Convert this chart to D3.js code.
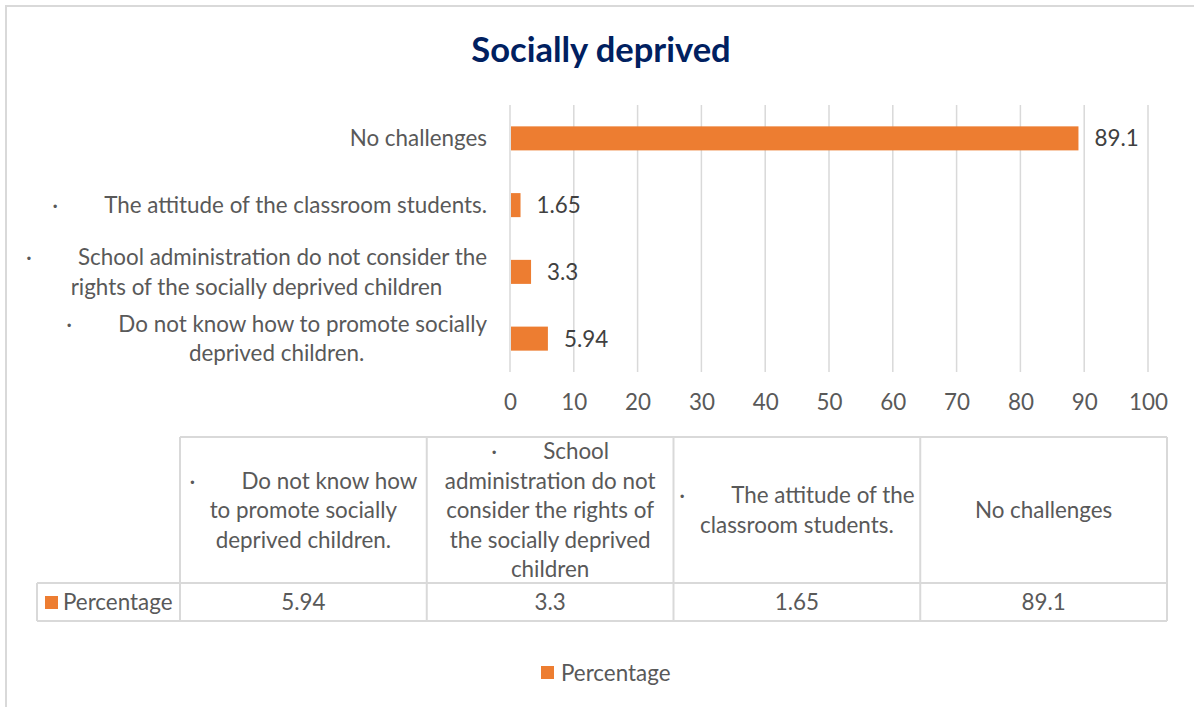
<!DOCTYPE html>
<html><head><meta charset="utf-8">
<script src="https://cdn.jsdelivr.net/npm/d3@7"></script>
<style>
html,body{margin:0;padding:0;background:#fff;}
svg{display:block;font-family:Lato, "Noto Sans", sans-serif;}
</style></head>
<body><svg id="c" width="1194" height="707"></svg>
<script>
const title = "Socially deprived";
const seriesName = "Percentage";
// categories in data order (table order); chart shows first at bottom
const categories = [
  "Do not know how to promote socially deprived children.",
  "School administration do not consider the rights of the socially deprived children",
  "The attitude of the classroom students.",
  "No challenges"
];
const bulleted = [true, true, true, false];
const values = [5.94, 3.3, 1.65, 89.1];
const valueLabels = ["5.94", "3.3", "1.65", "89.1"];
// wrapped lines for the axis labels and the table header
const axisLabelLines = [
  ["Do not know how to promote socially", "deprived children."],
  ["School administration do not consider the", "rights of the socially deprived children"],
  ["The attitude of the classroom students."],
  ["No challenges"]
];
const tableHeaderLines = [
  ["Do not know how", "to promote socially", "deprived children."],
  ["School", "administration do not", "consider the rights of", "the socially deprived", "children"],
  ["The attitude of the", "classroom students."],
  ["No challenges"]
];
const xTicks = [0,10,20,30,40,50,60,70,80,90,100];

const W = 1194, H = 707;
const orange = "#ED7D31", textCol = "#595959", grid = "#D9D9D9";
const FS = 22.4;
const svg = d3.select("#c");

// outer frame
svg.append("rect").attr("x",6).attr("y",6).attr("width",1200).attr("height",720)
  .attr("fill","#fff").attr("stroke","#D9D9D9").attr("stroke-width",2);

// title
svg.append("text").attr("x",601).attr("y",62).attr("text-anchor","middle")
  .attr("font-size",34.5).attr("font-weight","bold").attr("fill","#002060").text(title);

// scales
const x = d3.scaleLinear().domain([0,100]).range([510,1148]);
const order = categories.map((c,i)=>i).reverse(); // top: No challenges
const y = d3.scaleBand().domain(order).range([105,372]).paddingInner(0.64).paddingOuter(0.32);

// gridlines
svg.append("g").selectAll("line").data(xTicks).join("line")
  .attr("x1",d=>x(d)).attr("x2",d=>x(d)).attr("y1",105).attr("y2",372)
  .attr("stroke",grid).attr("stroke-width",1.5);

// x axis tick labels
const xAxis = d3.axisBottom(x).tickValues(xTicks).tickSize(0).tickPadding(0);
const gx = svg.append("g").attr("transform","translate(0,392)").call(xAxis);
gx.select(".domain").remove();
gx.selectAll("text").attr("font-size",FS).attr("fill",textCol).attr("font-family","Lato").attr("dy","0.8em");

// bars
svg.append("g").selectAll("rect").data(order).join("rect")
  .attr("x",x(0)+1).attr("y",i=>y(i)).attr("height",y.bandwidth())
  .attr("width",i=>x(values[i])-x(0)-1).attr("fill",orange);

// value labels
svg.append("g").selectAll("text").data(order).join("text")
  .attr("x",i=>x(values[i])+16).attr("y",i=>y(i)+y.bandwidth()/2).attr("dy","0.36em")
  .attr("font-size",FS).attr("fill","#404040").text(i=>valueLabels[i]);

// helper: draw a block of lines centered at cx, cy, first line optionally bulleted
const GAP = 52, LH = 29.5;
function measure(t){ const n = svg.append("text").attr("font-size",FS).text(t); const w = n.node().getComputedTextLength(); n.remove(); return w; }
function drawBlock(g, lines, bullet, cx, cy, rightEdge){
  const widths = lines.map((l,k)=> measure(l) + (bullet && k===0 ? GAP : 0));
  const maxW = d3.max(widths);
  if (rightEdge !== undefined) cx = rightEdge - maxW/2;
  const y0 = cy - (lines.length-1)*LH/2;
  lines.forEach((l,k)=>{
    const left = cx - widths[k]/2;
    const yy = y0 + k*LH;
    if (bullet && k===0){
      g.append("text").attr("x",left).attr("y",yy).attr("dy","0.36em").attr("font-size",FS).attr("fill",textCol).text("·");
      g.append("text").attr("x",left+GAP).attr("y",yy).attr("dy","0.36em").attr("font-size",FS).attr("fill",textCol).text(l);
    } else {
      g.append("text").attr("x",left).attr("y",yy).attr("dy","0.36em").attr("font-size",FS).attr("fill",textCol).text(l);
    }
  });
}

// category axis labels
const gy = svg.append("g");
order.forEach(i=>{
  drawBlock(gy, axisLabelLines[i], bulleted[i], 0, y(i)+y.bandwidth()/2, 487);
});

// data table
const tx = d3.scaleBand().domain(categories.map((c,i)=>i)).range([180,1167]);
const tTop = 437, tMid = 583, tBot = 621, keyLeft = 37;
const tg = svg.append("g");
const lineAttr = s=>s.attr("stroke",grid).attr("stroke-width",2);
// horizontal lines
lineAttr(tg.append("line").attr("x1",180).attr("x2",1167).attr("y1",tTop).attr("y2",tTop));
lineAttr(tg.append("line").attr("x1",keyLeft).attr("x2",1167).attr("y1",tMid).attr("y2",tMid));
lineAttr(tg.append("line").attr("x1",keyLeft).attr("x2",1167).attr("y1",tBot).attr("y2",tBot));
// vertical lines
lineAttr(tg.append("line").attr("x1",keyLeft).attr("x2",keyLeft).attr("y1",tMid).attr("y2",tBot));
const vx = [180, ...categories.map((c,i)=>tx(i)+tx.bandwidth())];
vx.forEach(v=> lineAttr(tg.append("line").attr("x1",v).attr("x2",v).attr("y1",tTop).attr("y2",tBot)));
// header text
categories.forEach((c,i)=>{
  drawBlock(tg, tableHeaderLines[i], bulleted[i], tx(i)+tx.bandwidth()/2, (tTop+tMid)/2);
});
// values row
tg.selectAll("text.v").data(values).join("text").attr("class","v")
  .attr("x",(d,i)=>tx(i)+tx.bandwidth()/2).attr("y",(tMid+tBot)/2).attr("dy","0.36em")
  .attr("text-anchor","middle").attr("font-size",FS).attr("fill",textCol).text((d,i)=>valueLabels[i]);
// key in table
tg.append("rect").attr("x",45).attr("y",596).attr("width",13).attr("height",13).attr("fill",orange);
tg.append("text").attr("x",63).attr("y",(tMid+tBot)/2).attr("dy","0.36em").attr("font-size",FS).attr("fill",textCol).text(seriesName);

// bottom legend
const lg = svg.append("g");
lg.append("rect").attr("x",541).attr("y",666).attr("width",13).attr("height",13).attr("fill",orange);
lg.append("text").attr("x",561).attr("y",673).attr("dy","0.36em").attr("font-size",FS).attr("fill",textCol).text(seriesName);
</script></body></html>
